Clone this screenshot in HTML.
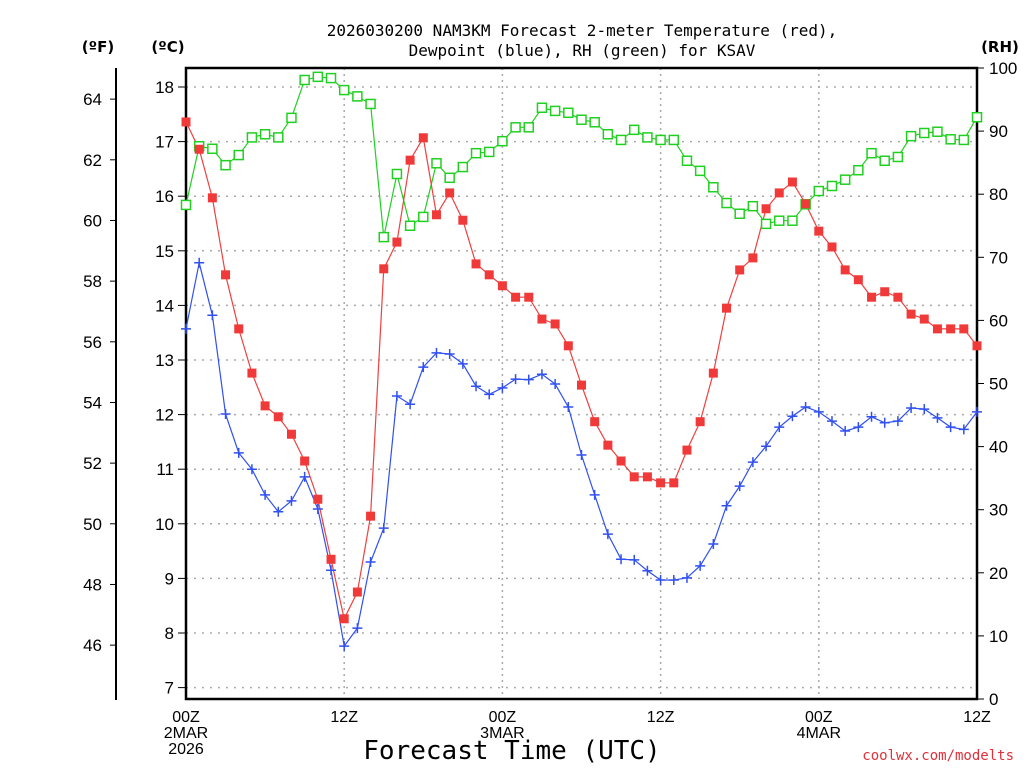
<!DOCTYPE html>
<html><head><meta charset="utf-8"><style>
html,body{margin:0;padding:0;background:#fff;width:1024px;height:768px;overflow:hidden}
svg{display:block;font-family:"Liberation Sans","DejaVu Sans",sans-serif}
</style></head><body>
<svg id="chart" width="1024" height="768" viewBox="0 0 1024 768">
<text x="582" y="36" text-anchor="middle" font-size="16" fill="#000" font-family="DejaVu Sans Mono, monospace">2026030200 NAM3KM Forecast 2-meter Temperature (red),</text>
<text x="582" y="56" text-anchor="middle" font-size="16" fill="#000" font-family="DejaVu Sans Mono, monospace">Dewpoint (blue), RH (green) for KSAV</text>
<text x="98" y="52" text-anchor="middle" font-size="15" font-weight="bold" font-family="DejaVu Sans, sans-serif">(ºF)</text>
<text x="168" y="52" text-anchor="middle" font-size="15" font-weight="bold" font-family="DejaVu Sans, sans-serif">(ºC)</text>
<text x="1000" y="52" text-anchor="middle" font-size="15" font-weight="bold" font-family="DejaVu Sans, sans-serif">(RH)</text>
<text x="512" y="759" text-anchor="middle" font-size="26" fill="#000" font-family="DejaVu Sans Mono, monospace">Forecast Time (UTC)</text>
<text x="1014" y="760" text-anchor="end" font-size="14" fill="#e0303a" font-family="DejaVu Sans Mono, monospace">coolwx.com/modelts</text>
<g id="grid"></g><g id="axes"></g><g id="series"></g>
</svg>
<script>
const hours=[0,1,2,3,4,5,6,7,8,9,10,11,12,13,14,15,16,17,18,19,20,21,22,23,24,25,26,27,28,29,30,31,32,33,34,35,36,37,38,39,40,41,42,43,44,45,46,47,48,49,50,51,52,53,54,55,56,57,58,59,60];
const tempC=[17.36,16.86,15.97,14.56,13.57,12.76,12.16,11.96,11.64,11.15,10.45,9.35,8.26,8.75,10.14,14.67,15.16,16.66,17.07,15.66,16.06,15.56,14.76,14.56,14.36,14.15,14.15,13.75,13.66,13.26,12.54,11.87,11.44,11.15,10.86,10.86,10.75,10.75,11.35,11.87,12.76,13.95,14.65,14.87,15.77,16.06,16.26,15.86,15.36,15.07,14.65,14.47,14.15,14.25,14.15,13.84,13.75,13.57,13.57,13.57,13.26];
const dewC=[13.57,14.78,13.82,12.01,11.30,11.00,10.53,10.22,10.42,10.86,10.27,9.15,7.76,8.09,9.30,9.92,12.34,12.19,12.87,13.13,13.11,12.93,12.52,12.37,12.49,12.65,12.64,12.74,12.56,12.14,11.26,10.53,9.81,9.35,9.34,9.14,8.97,8.97,9.01,9.23,9.63,10.33,10.69,11.13,11.42,11.77,11.97,12.14,12.05,11.88,11.70,11.77,11.96,11.85,11.88,12.12,12.10,11.94,11.77,11.73,12.05];
const rh=[78.3,87.6,87.2,84.6,86.2,89.0,89.5,89.0,92.1,98.1,98.6,98.4,96.5,95.5,94.3,73.2,83.2,75.0,76.4,84.9,82.6,84.3,86.5,86.7,88.4,90.6,90.6,93.7,93.2,92.9,91.8,91.4,89.5,88.6,90.2,89.0,88.6,88.6,85.3,83.7,81.1,78.6,76.9,78.1,75.3,75.8,75.8,78.4,80.5,81.3,82.3,83.8,86.5,85.3,85.9,89.2,89.7,89.9,88.7,88.6,92.2];
const cTicks=[7,8,9,10,11,12,13,14,15,16,17,18];
const fTicks=[46,48,50,52,54,56,58,60,62,64];
const rhTicks=[0,10,20,30,40,50,60,70,80,90,100];
const xTickHours=[0,12,24,36,48,60];
const xTickLabels=[["00Z","2MAR","2026"],["12Z"],["00Z","3MAR"],["12Z"],["00Z","4MAR"],["12Z"]];

const L=186,R=977,T=68,B=699;
const x=h=>L+(h-0)*(R-L)/60;
const yC=c=>87+(18-c)*54.6;
const yF=f=>yC((f-32)/1.8);
const yRH=v=>B-v*(B-T)/100;
const NS="http://www.w3.org/2000/svg";
function mk(tag,attrs,parent){const e=document.createElementNS(NS,tag);for(const k in attrs)e.setAttribute(k,attrs[k]);parent.appendChild(e);return e;}
const grid=document.getElementById('grid'),axes=document.getElementById('axes'),ser=document.getElementById('series');

cTicks.forEach(c=>{
  const g=mk('line',{x1:L,x2:R,y1:yC(c),y2:yC(c),stroke:'#aaa','stroke-width':1.5,'stroke-dasharray':'2,6'},grid);
  
  
  const t=mk('line',{x1:L-8,x2:L,y1:yC(c),y2:yC(c),stroke:'#000','stroke-width':1},axes);
  
  
  const lb=mk('text',{x:L-12,y:yC(c)+6,'text-anchor':'end','font-size':17,fill:'#000'},axes);
  lb.textContent=c;
  
  
});
xTickHours.forEach((h,i)=>{
  if(h>0&&h<60){
    const g=mk('line',{x1:x(h),x2:x(h),y1:T,y2:B,stroke:'#aaa','stroke-width':1.5,'stroke-dasharray':'2,4'},grid);
    
    
  }
  xTickLabels[i].forEach((s,j)=>{
    const lb=mk('text',{x:x(h),y:722+j*16,'text-anchor':'middle','font-size':16,fill:'#000'},axes);
    lb.textContent=s;
    
    
  });
});
const fl=mk('line',{x1:116,x2:116,y1:T,y2:B+1,stroke:'#000','stroke-width':2},axes);


fTicks.forEach(f=>{
  const t=mk('line',{x1:110,x2:116,y1:yF(f),y2:yF(f),stroke:'#000','stroke-width':1},axes);
  
  
  const lb=mk('text',{x:102,y:yF(f)+6,'text-anchor':'end','font-size':17,fill:'#000'},axes);
  lb.textContent=f;
  
  
});
rhTicks.forEach(v=>{
  const t=mk('line',{x1:R,x2:R+7,y1:yRH(v),y2:yRH(v),stroke:'#000','stroke-width':1},axes);
  
  
  const lb=mk('text',{x:R+12,y:yRH(v)+6,'text-anchor':'start','font-size':17,fill:'#000'},axes);
  lb.textContent=v;
  
  
});
const fr=mk('rect',{x:L,y:T,width:R-L,height:B-T,fill:'none',stroke:'#000','stroke-width':2.5},axes);



function line(vals,yf,color,name){
  const p=mk('polyline',{points:vals.map((v,i)=>x(hours[i])+','+yf(v)).join(' '),fill:'none',stroke:color,'stroke-width':1.2},ser);
  
  
}
line(rh,yRH,'#20d020','rh-line');
line(tempC,yC,'#f04040','temperature-line');
line(dewC,yC,'#3050f0','dewpoint-line');
rh.forEach((v,i)=>{
  const r=mk('rect',{x:x(hours[i])-4.5,y:yRH(v)-4.5,width:9,height:9,fill:'#fff',stroke:'#20d020','stroke-width':1.5},ser);
  
  
});
tempC.forEach((v,i)=>{
  const r=mk('rect',{x:x(hours[i])-4.5,y:yC(v)-4.5,width:9,height:9,fill:'#f03a3a'},ser);
  
  
});
dewC.forEach((v,i)=>{
  const cx=x(hours[i]),cy=yC(v);
  const p=mk('path',{d:`M${cx-5},${cy}H${cx+5}M${cx},${cy-5}V${cy+5}`,stroke:'#3050f0','stroke-width':1.5,fill:'none'},ser);
  
  
});
</script>
</body></html>
